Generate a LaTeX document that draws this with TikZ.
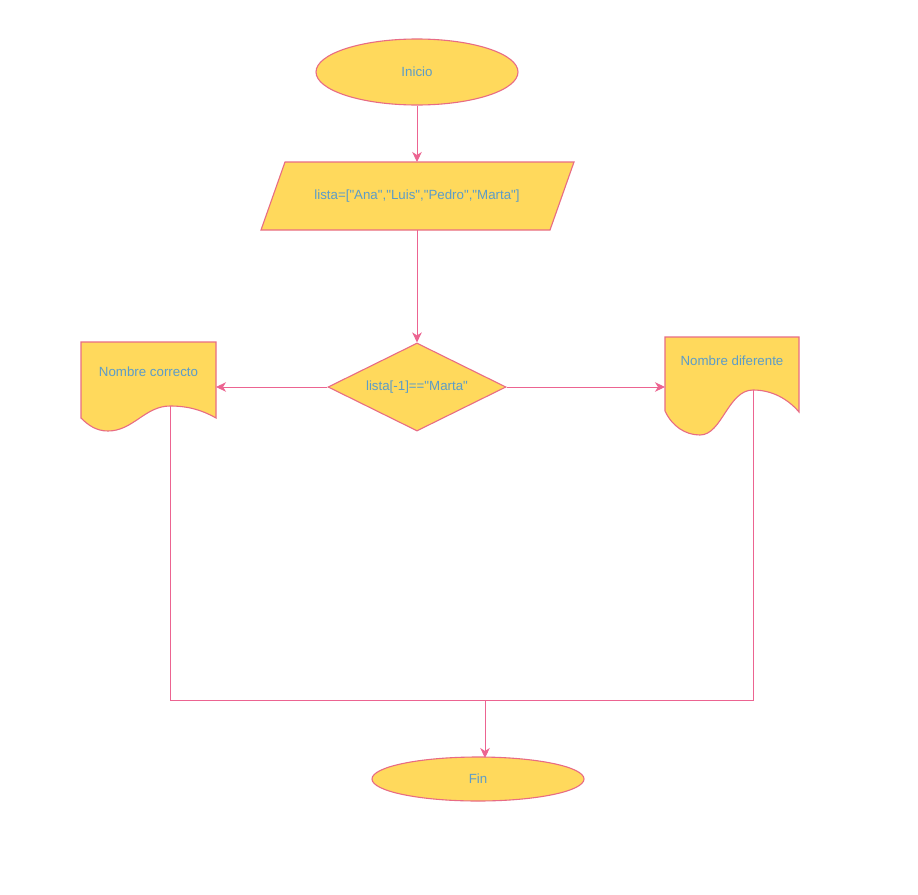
\documentclass[tikz,border=0pt]{standalone}
\usepackage{fontspec}
\setmainfont{Liberation Sans}
\usetikzlibrary{shapes.geometric,arrows.meta}
\definecolor{fillY}{RGB}{255,217,92}
\definecolor{edgeP}{RGB}{232,108,132}
\definecolor{lineP}{RGB}{236,100,145}
\definecolor{txtB}{RGB}{92,156,200}
\newcommand{\qd}{\textquotedbl}
\tikzset{
  x=1pt,y=-1pt,
  shp/.style={draw=edgeP,fill=fillY,line width=1.1pt,text=txtB,font=\fontsize{13.3}{16}\selectfont,inner sep=0pt},
  lbl/.style={text=txtB,font=\fontsize{13.3}{16}\selectfont,inner sep=0pt},
  conn/.style={draw=lineP,line width=0.9pt},
  arr/.style={conn,-{Stealth[length=10pt,width=9.5pt,inset=3pt]}},
}
\begin{document}
\begin{tikzpicture}
\useasboundingbox (0,0) rectangle (918,894);
\fill[white] (0,0) rectangle (918,894);
% start
\node[shp,ellipse,minimum width=202pt,minimum height=66pt] (ini) at (417,72) {Inicio};
% parallelogram
\draw[shp] (285,162) -- (574,162) -- (550,230) -- (261,230) -- cycle;
\node[lbl,minimum width=289pt,minimum height=68pt] (lst) at (417,196) {lista=[\qd Ana\qd,\qd Luis\qd,\qd Pedro\qd,\qd Marta\qd]};
% decision
\node[shp,diamond,minimum width=178pt,minimum height=88pt,aspect=2.02] (dec) at (417,387) {lista[-1]==\qd Marta\qd};
% left document
\draw[shp] (81,342) -- (216,342) -- (216,418)
  .. controls (202,410) and (188,406) .. (170,406)
  .. controls (145,406) and (133,431) .. (108,431)
  .. controls (96,431) and (88,425) .. (81,418) -- cycle;
\node[lbl,minimum width=135pt,minimum height=60pt] (docl) at (148.5,372) {Nombre correcto};
\coordinate (cl) at (170,406);
% right document
\draw[shp] (665,337) -- (799,337) -- (799,412)
  .. controls (788,399) and (772,390) .. (753,390)
  .. controls (728,390) and (722,435) .. (700,435)
  .. controls (685,435) and (672,426) .. (665,411) -- cycle;
\node[lbl,minimum width=134pt,minimum height=48pt] (docr) at (732,361) {Nombre diferente};
\coordinate (cr) at (753,390);
% end
\node[shp,ellipse,minimum width=212pt,minimum height=44pt] (fin) at (478,779) {Fin};
% connectors
\draw[arr] (ini.south) -- (417,162);
\draw[arr] (417,230) -- (dec.north);
\draw[arr] (dec.west) -- (216,387);
\draw[arr] (dec.east) -- (665,387);
\coordinate (jl) at (170,700);
\coordinate (jr) at (753,700);
\coordinate (jm) at (485,700);
\coordinate (jf) at (485,758);
\draw[conn] (cl) -- (jl) -- (jr) -- (cr);
\draw[arr] (jm) -- (jf);
\end{tikzpicture}
\end{document}
